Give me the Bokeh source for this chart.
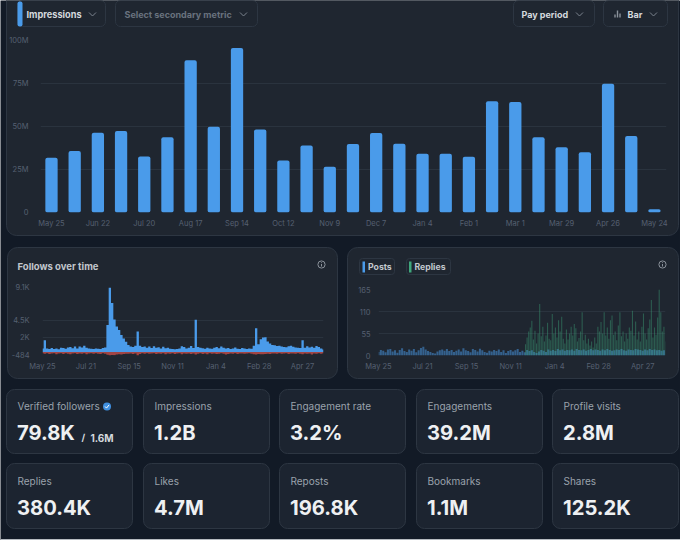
from bokeh.core.properties import value
from bokeh.embed import file_html
from bokeh.models import FixedTicker, Range1d
from bokeh.plotting import figure
from bokeh.resources import INLINE

# ---------- data ----------
impression_periods = ["May 25", "Jun 8", "Jun 22", "Jul 6", "Jul 20", "Aug 3", "Aug 17", "Aug 31", "Sep 14",
                      "Sep 28", "Oct 12", "Oct 26", "Nov 9", "Nov 23", "Dec 7", "Dec 21", "Jan 4", "Jan 18",
                      "Feb 1", "Feb 15", "Mar 1", "Mar 15", "Mar 29", "Apr 12", "Apr 26", "May 10", "May 24"]
impressions = [31.8, 35.7, 46.4, 47.4, 32.6, 43.7, 88.5, 49.9, 95.7, 48.2, 30.3, 39.0, 26.6, 39.8,
               46.2, 40.0, 34.2, 34.2, 32.4, 64.7, 64.3, 43.7, 37.9, 35.0, 74.8, 44.5, 1.9]
impressions_y_ticks = [0, 25, 50, 75, 100]
impressions_y_labels = ["0", "25M", "50M", "75M", "100M"]

follow_gains = [500, 1650, 520, 420, 560, 430, 520, 400, 620, 560, 480, 650, 720, 540, 790, 520, 780, 640,
                880, 600, 500, 470, 430, 520, 460, 420, 560, 640, 3800, 9100, 6900, 4600, 3600, 3100, 2400,
                1900, 1450, 1000, 800, 700, 900, 2900, 900, 700, 800, 600, 780, 560, 820, 620, 680, 500, 760,
                540, 620, 480, 430, 380, 440, 520, 820, 700, 500, 620, 860, 560, 4550, 700, 620, 540, 480, 600,
                520, 460, 620, 720, 540, 800, 620, 500, 560, 440, 520, 640, 460, 420, 560, 500, 430, 520,
                480, 900, 3350, 1100, 1800, 2050, 2100, 1500, 1200, 1000, 950, 860, 900, 780, 720, 680, 820, 900,
                760, 640, 600, 580, 1680, 620, 820, 660, 760, 620, 840, 700, 520, 350]
follow_losses = [-180, -240, -150, -280, -190, -170, -300, -210, -160, -260, -180, -240, -320, -200, -170, -280,
                 -190, -230, -160, -300, -210, -180, -250, -170, -220, -290, -180, -240, -380, -484, -420, -460,
                 -330, -300, -360, -260, -220, -240, -190, -280, -200, -484, -260, -180, -230, -170, -250, -210,
                 -160, -280, -200, -240, -180, -300, -190, -220, -170, -260, -210, -180, -320, -200, -240, -190,
                 -270, -210, -340, -230, -180, -260, -200, -300, -170, -220, -190, -280, -240, -180, -230, -340,
                 -260, -190, -220, -170, -280, -210, -190, -250, -200, -180, -240, -300, -360, -280, -320, -300,
                 -260, -240, -280, -210, -190, -230, -180, -250, -200, -170, -280, -210, -190, -240, -180, -220,
                 -320, -200, -250, -190, -340, -210, -240, -180, -220, -170]
follows_y_ticks = [-484, 2000, 4500, 9100]
follows_y_labels = ["-484", "2K", "4.5K", "9.1K"]

posts = [9, 14, 12, 8, 15, 16, 10, 13, 7, 14, 18, 11, 9, 15, 12, 16, 8, 13, 19, 22, 15, 11, 9, 6, 5, 10, 13, 15,
         12, 16, 11, 14, 9, 12, 15, 10, 18, 13, 11, 8, 16, 14, 10, 17, 13, 9, 7, 12, 10, 14, 11, 15, 9, 13, 6, 11,
         14, 10, 13, 16, 9, 12, 8, 14, 11, 13, 9, 6, 10, 14, 12, 9, 15, 12, 14, 11, 16, 13, 15, 12, 14, 13, 15, 12,
         16, 14, 13, 15, 12, 14, 16, 13, 15, 14, 12, 15, 13, 16, 14, 12, 13, 15, 14, 16, 13, 12, 15, 14, 13, 16, 15,
         14, 12, 15, 13, 16, 14, 15, 13, 14, 12, 13]
replies = [28, 45, 60, 70, 87, 40, 62, 30, 55, 129, 48, 72, 35, 50, 82, 42, 38, 104, 55, 70, 45, 88, 60, 97, 42, 30,
           65, 40, 55, 72, 50, 79, 68, 35, 44, 60, 108, 38, 52, 30, 42, 25, 35, 20, 45, 30, 72, 60, 84, 55, 108, 50,
           70, 42, 88, 100, 52, 60, 38, 75, 108, 48, 60, 35, 55, 42, 70, 62, 112, 50, 85, 40, 60, 35, 72, 105, 55, 40,
           68, 90, 139, 45, 70, 52, 95, 165, 108, 60, 72, 35]
activity_y_ticks = [0, 55, 110, 165]

time_ticks = [0, 56, 112, 168, 224, 280, 336]
time_labels = ["May 25", "Jul 21", "Sep 15", "Nov 11", "Jan 4", "Feb 28", "Apr 27"]

stat_labels = ["Verified followers", "Impressions", "Engagement rate", "Engagements", "Profile visits",
               "Replies", "Likes", "Reposts", "Bookmarks", "Shares"]
stat_values = ["79.8K", "1.2B", "3.2%", "39.2M", "2.8M", "380.4K", "4.7M", "196.8K", "1.1M", "125.2K"]
verified_total = "1.6M"

# ---------- style ----------
PAGE = "#121a26"
CARD = "#1f2630"
STAT = "#1c2430"
EDGE = "#2d3642"
GRID = "#2a333e"
TICK = "#566070"
BLUE = "#4a9bea"
FONT = "Inter"

# ---------- page backdrop: pixel-sized canvas carrying cards, texts and controls ----------
bg = figure(width=680, height=540, output_backend="svg", toolbar_location=None,
            x_range=Range1d(0, 680), y_range=Range1d(540, 0), x_axis_type=None, y_axis_type=None,
            min_border=0, min_border_left=0, min_border_right=0, min_border_top=0, min_border_bottom=0,
            background_fill_color=PAGE, border_fill_color=PAGE, outline_line_color=None,
            styles={"position": "absolute", "left": "0px", "top": "0px"})
bg.grid.visible = False


def card(l, r, t, b, fill, radius):
    bg.quad(left=[l], right=[r], top=[t], bottom=[b], fill_color=fill, line_color=EDGE, line_width=1,
            border_radius=radius)


def label(x, y, s, size, color, style="normal", align="left"):
    bg.text(x=[x], y=[y], text=[s], text_font=value(FONT), text_font_size=f"{size}px", text_color=color,
            text_font_style=style, text_align=align, text_baseline="middle")


def chevron(x, y):
    bg.line(x=[x - 3.5, x, x + 3.5], y=[y - 1.5, y + 2, y - 1.5], line_color="#7b838e", line_width=1)


def info(x, y):
    bg.circle(x=[x], y=[y], radius=3.6, fill_alpha=0, line_color="#8b929b", line_width=1)
    bg.line(x=[x, x], y=[y - 0.5, y + 2], line_color="#8b929b", line_width=1)
    bg.line(x=[x, x], y=[y - 2.2, y - 1.4], line_color="#8b929b", line_width=1)


card(6, 678, -12, 235, CARD, 10)
card(7, 337, 247, 378, CARD, 10)
card(347, 678, 247, 378, CARD, 10)

# controls
for l, r in [(17, 105), (115, 257), (513, 594), (603, 667)]:
    card(l, r, 0, 26, CARD, 5)
bg.quad(left=[17], right=[22], top=[1], bottom=[26], fill_color=BLUE, line_color=None, border_radius=2)
label(26, 13.5, "Impressions", 9.2, "#d5d9de", "bold")
label(124, 13.5, "Select secondary metric", 9, "#69727e", "bold")
label(521, 13.5, "Pay period", 9, "#d5d9de", "bold")
label(627, 13.5, "Bar", 9, "#d5d9de", "bold")
chevron(92, 13.5)
chevron(243, 13.5)
chevron(579, 13.5)
chevron(653, 13.5)
for x, h in [(614.5, 3), (617, 7), (619.5, 4)]:
    bg.line(x=[x, x], y=[17, 17 - h], line_color="#8b929b", line_width=1.4)

# lower chart headers
label(17, 265.5, "Follows over time", 9.5, "#c2c7cd", "bold")
info(321, 264)
info(662, 264)
card(359, 394, 258, 274, CARD, 3)
card(406, 450, 258, 274, CARD, 3)
bg.quad(left=[362], right=[364.5], top=[261], bottom=[272], fill_color=BLUE, line_color=None)
bg.quad(left=[408.5], right=[411], top=[261], bottom=[272], fill_color="#3fa77c", line_color=None)
label(367.5, 266.5, "Posts", 8.7, "#c2c7cd", "bold")
label(414, 266.5, "Replies", 8.7, "#c2c7cd", "bold")

# stat tiles
tile_left = [6, 143, 279, 416, 552]
tile_right = [132, 269, 405, 542, 678]
tile_rows = [(389, 453, 405.5, 432), (463, 528, 480.5, 507)]
for n, (lab, val) in enumerate(zip(stat_labels, stat_values)):
    c = n % 5
    top, bot, ly, vy = tile_rows[n // 5]
    card(tile_left[c], tile_right[c], top, bot, STAT, 8)
    label(tile_left[c] + 11, ly, lab, 10, "#9aa2ac")
    label(tile_left[c] + 10.5, vy, val, 20.2, "#eef0f2", "bold")
label(81, 437, "/", 9.5, "#d5d9de", "bold")
label(90, 437, verified_total, 10, "#d5d9de", "bold")
bg.circle(x=[106.5], y=[406], radius=4, fill_color="#3f8fe0", line_color=None)
bg.line(x=[104.6, 106, 108.6], y=[406, 407.6, 404.4], line_color="#ffffff", line_width=1)

# pale edge of the screenshot along the bottom
bg.quad(left=[0], right=[680], top=[538.5], bottom=[540], fill_color="#b4b9bf", line_color=None)


# ---------- charts ----------
def chart(left, top, w, h, mb, x_range, y_range, x_ticks, x_over, y_ticks, y_over, standoff):
    p = figure(width=w, height=h, output_backend="svg", toolbar_location=None,
               x_range=x_range, y_range=y_range,
               min_border_left=mb[0], min_border_right=mb[1], min_border_top=mb[2], min_border_bottom=mb[3],
               background_fill_alpha=0, border_fill_alpha=0, outline_line_color=None,
               styles={"position": "absolute", "left": f"{left}px", "top": f"{top}px"})
    p.xgrid.visible = False
    p.ygrid.grid_line_color = GRID
    p.ygrid.ticker = FixedTicker(ticks=y_ticks)
    p.xaxis.ticker = FixedTicker(ticks=x_ticks)
    p.yaxis.ticker = FixedTicker(ticks=y_ticks)
    p.xaxis.major_label_overrides = x_over
    p.yaxis.major_label_overrides = y_over
    for ax in (p.xaxis, p.yaxis):
        ax.axis_line_color = None
        ax.major_tick_line_color = None
        ax.minor_tick_line_color = None
        ax.major_label_text_font = FONT
        ax.major_label_text_font_size = "7.5px"
        ax.major_label_text_color = TICK
    p.xaxis.major_label_standoff = 0
    p.yaxis.major_label_standoff = standoff
    return p


# impressions
idx = list(range(len(impressions)))
main_ticks = idx[::2]
c1 = chart(0, 30, 680, 212, (40, 14, 10, 30), Range1d(-0.474, 26.52), Range1d(0, 100),
           main_ticks, {i: impression_periods[i] for i in main_ticks},
           impressions_y_ticks, dict(zip(impressions_y_ticks, impressions_y_labels)), 6)
c1.vbar(x=idx, top=impressions, width=0.53, fill_color=BLUE, line_color=None, border_radius=2)

# follows
DAY_STEP = 3
days = [i * DAY_STEP for i in range(len(follow_gains))]
zeros = [0] * len(days)
c2 = chart(8, 280, 330, 105, (34, 15, 7, 30), Range1d(0, 363), Range1d(-484, 9100),
           time_ticks, dict(zip(time_ticks, time_labels)),
           follows_y_ticks, dict(zip(follows_y_ticks, follows_y_labels)), 7)
c2.varea_step(x=days, y1=zeros, y2=follow_losses, step_mode="center", fill_color="#d9534f", fill_alpha=0.7)
c2.varea_step(x=days, y1=zeros, y2=follow_gains, step_mode="center", fill_color=BLUE)

# posts / replies
post_days = [i * DAY_STEP for i in range(len(posts))]
reply_days = [187 + j * 2 for j in range(len(replies))]
c3 = chart(345, 282, 332, 103, (33, 12, 7, 30), Range1d(0, 365), Range1d(0, 165),
           time_ticks, dict(zip(time_ticks, time_labels)),
           activity_y_ticks, {t: str(t) for t in activity_y_ticks}, 2)
c3.vbar(x=post_days, top=posts, width=2.6, fill_color=BLUE, fill_alpha=0.5, line_color=None)
c3.vbar(x=reply_days, top=replies, width=1.4, fill_color="#3fa77c", fill_alpha=0.42, line_color=None)

open("out.html", "w").write(file_html([bg, c1, c2, c3], INLINE))
